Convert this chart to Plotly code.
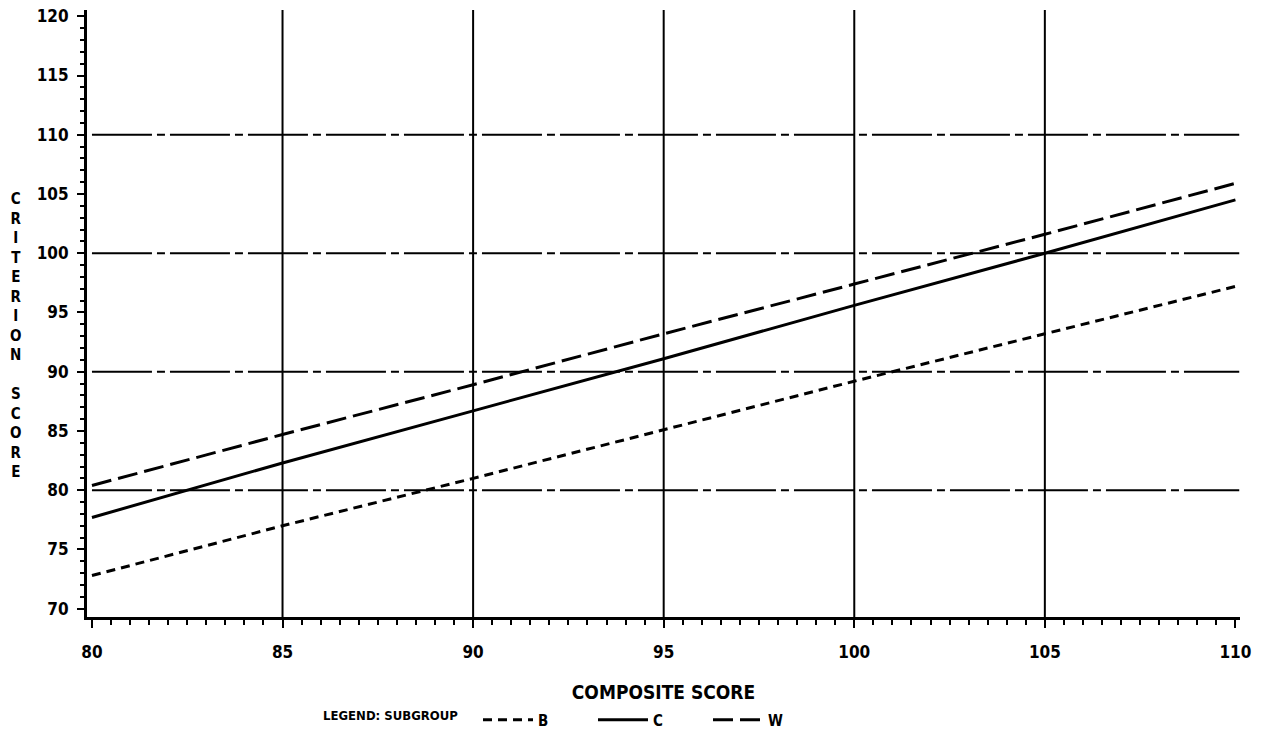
import plotly.graph_objects as go

# Data
x_vals = [80, 85, 90, 95, 100, 105, 110]
b_vals = [72.8, 77.0, 81.0, 85.1, 89.2, 93.2, 97.2]
c_vals = [77.7, 82.3, 86.7, 91.1, 95.6, 100.0, 104.5]
w_vals = [80.4, 84.7, 88.9, 93.2, 97.4, 101.6, 105.9]

series_names = ["B", "C", "W"]
x_tick_vals = [80, 85, 90, 95, 100, 105, 110]
y_tick_vals = [70, 75, 80, 85, 90, 95, 100, 105, 110, 115, 120]
v_grid = [85, 90, 95, 100, 105]
h_grid = [80, 90, 100, 110]

FONT = "DejaVu Sans Condensed, DejaVu Sans"

fig = go.Figure()

styles = {
    "B": dict(dash="9px,6px", width=3),
    "C": dict(dash="solid", width=3),
    "W": dict(dash="20px,7px", width=3),
}
for name, vals in zip(series_names, [b_vals, c_vals, w_vals]):
    fig.add_trace(go.Scatter(
        x=x_vals, y=vals, mode="lines", name=name,
        line=dict(color="black", **styles[name]),
    ))

for v in v_grid:
    fig.add_vline(x=v, line=dict(color="black", width=2), layer="below")
for h in h_grid:
    fig.add_shape(type="line", xref="x", yref="y", x0=80, x1=110.1, y0=h, y1=h,
                  line=dict(color="black", width=2, dash="60px,5px,8px,5px"),
                  layer="below")

fig.update_layout(
    width=1247, height=724,
    margin=dict(l=79, r=15, t=2, b=115, autoexpand=False),
    paper_bgcolor="white", plot_bgcolor="white",
    font=dict(family=FONT, color="black", size=16, weight="bold"),
    showlegend=True,
    legend=dict(
        orientation="h",
        x=0.203, xanchor="left",
        yref="container", y=0.0166, yanchor="middle",
        title=dict(text="LEGEND: SUBGROUP\u00a0\u00a0\u00a0", font=dict(size=13, family=FONT, weight="bold")),
        font=dict(size=15, family=FONT, weight="bold"),
        entrywidth=50, entrywidthmode="pixels",
        itemwidth=50,
    ),
    xaxis=dict(
        range=[79.87, 110.12],
        tickvals=x_tick_vals,
        showgrid=False, zeroline=False,
        showline=True, linecolor="black", linewidth=3,
        ticks="outside", ticklen=8, tickwidth=2, tickcolor="black",
        ticklabelstandoff=10, ticklabeloverflow="allow",
        minor=dict(dtick=0.5, ticks="outside", ticklen=5, tickwidth=2, tickcolor="black", showgrid=False),
        tickfont=dict(size=17, family=FONT, weight="bold"),
        title=dict(text="COMPOSITE SCORE", font=dict(size=19, family=FONT, weight="bold"), standoff=25),
    ),
    yaxis=dict(
        range=[69.3, 120.53],
        tickvals=y_tick_vals,
        showgrid=False, zeroline=False,
        showline=True, linecolor="black", linewidth=3,
        ticks="outside", ticklen=7, tickwidth=2, tickcolor="black",
        ticklabelstandoff=5, ticklabeloverflow="allow",
        minor=dict(dtick=1, ticks="outside", ticklen=4, tickwidth=2, tickcolor="black", showgrid=False),
        tickfont=dict(size=17, family=FONT, weight="bold"),
    ),
)

ytitle = "CRITERION SCORE"
fig.add_annotation(
    text="<br>".join(ch if ch != " " else " " for ch in ytitle),
    xref="paper", yref="paper", x=-0.062, y=0.463,
    xanchor="center", yanchor="middle", showarrow=False,
    font=dict(size=15, family=FONT, color="black", weight="bold"),
)

fig.write_html("out.html")
